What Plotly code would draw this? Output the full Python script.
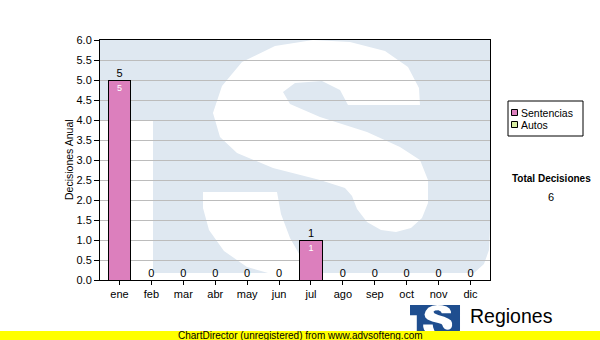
import plotly.graph_objects as go

# ---------------- data ----------------
months = ["ene", "feb", "mar", "abr", "may", "jun", "jul", "ago", "sep", "oct", "nov", "dic"]
sentencias = [5, 0, 0, 0, 0, 0, 1, 0, 0, 0, 0, 0]
autos = [0, 0, 0, 0, 0, 0, 0, 0, 0, 0, 0, 0]
series_names = ["Sentencias", "Autos"]
series_colors = ["#dc7fbd", "#d8eda2"]
y_tick_vals = [0, 0.5, 1, 1.5, 2, 2.5, 3, 3.5, 4, 4.5, 5, 5.5, 6]
y_title = "Decisiones Anual"
total_label = "Total Decisiones"
totals = [s + a for s, a in zip(sentencias, autos)]
total_decisiones = sum(totals)

# ---------------- geometry helpers (pixel -> paper) ----------------
W, H = 600, 340
L, R, T, B = 100, 110, 40, 60
PW, PH = W - L - R, H - T - B


def X(px):
    return (px - L) / PW


def Y(py):
    return (H - B - py) / PH


def path(points, closed=True):
    s = "M " + " L ".join(f"{X(a):.4f},{Y(b):.4f}" for a, b in points)
    return s + (" Z" if closed else "")


# watermark logo outline in pixel space (big version over plot area)
square = [(100, 40), (490, 40), (490, 228), (489, 250), (484, 264), (474, 273),
          (153, 273), (153, 120), (100, 120)]
s_upper = [(420, 105), (419, 88), (408, 67), (385, 51), (350, 42), (313, 40), (275, 46),
           (242, 62), (222, 86), (213, 113), (220, 137), (237, 153), (273, 168),
           (320, 180), (345, 188), (352, 196), (357, 209), (367, 222), (381, 230),
           (396, 232), (411, 228), (422, 218), (428, 203), (428, 180), (420, 160),
           (400, 147), (367, 132), (320, 117), (290, 104), (283, 92), (295, 83),
           (322, 81), (340, 90), (348, 105)]
s_lower = [(203, 192), (277, 192), (281, 214), (290, 238), (302, 259), (314, 275),
           (275, 275), (247, 267), (224, 251), (209, 230), (203, 208)]


def small(points):
    return [(410 + (a - 100) * 50 / 390, 305 + (b - 40) * 30 / 233) for a, b in points]


shapes = [
    dict(type="path", xref="paper", yref="paper", path=path(square),
         fillcolor="#dfe8f1", line=dict(width=0), layer="below"),
    dict(type="path", xref="paper", yref="paper", path=path(s_upper),
         fillcolor="#ffffff", line=dict(width=0), layer="below"),
    dict(type="path", xref="paper", yref="paper", path=path(s_lower),
         fillcolor="#ffffff", line=dict(width=0), layer="below"),
    # small logo bottom right
    dict(type="path", xref="paper", yref="paper", path=path(small(square)),
         fillcolor="#1f4e8f", line=dict(width=0), layer="above"),
    dict(type="path", xref="paper", yref="paper", path=path(small(s_upper)),
         fillcolor="#ffffff", line=dict(width=0), layer="above"),
    dict(type="path", xref="paper", yref="paper", path=path(small(s_lower)),
         fillcolor="#ffffff", line=dict(width=0), layer="above"),
    # yellow unregistered band
    dict(type="rect", xref="paper", yref="paper", x0=X(0), x1=X(600), y0=Y(340), y1=Y(331),
         fillcolor="#ffff00", line=dict(width=0), layer="above"),
    # legend box
    dict(type="rect", xref="paper", yref="paper", x0=X(508), x1=X(583), y0=Y(136), y1=Y(101),
         fillcolor="#ffffff", line=dict(color="#000000", width=1), layer="above"),
]

# legend swatches
leg_rows = [112.5, 124.5]
for name, col, cy in zip(series_names, series_colors, leg_rows):
    shapes.append(dict(type="rect", xref="paper", yref="paper", x0=X(511.5), x1=X(517.5),
                       y0=Y(cy + 3), y1=Y(cy - 3), fillcolor=col,
                       line=dict(color="#000000", width=1), layer="above"))

FONT = "Liberation Sans, Arial, sans-serif"

annotations = []
for name, cy in zip(series_names, leg_rows):
    annotations.append(dict(text=name, x=X(519), y=Y(cy), xref="paper", yref="paper",
                            xanchor="left", yanchor="middle", showarrow=False,
                            font=dict(family=FONT, size=10.5, color="#000000")))
annotations += [
    dict(text="<b>" + total_label + "</b>", x=X(551), y=Y(178), xref="paper", yref="paper",
         xanchor="center", yanchor="middle", showarrow=False,
         font=dict(family=FONT, size=10, color="#000000")),
    dict(text=str(total_decisiones), x=X(551), y=Y(196.5), xref="paper", yref="paper",
         xanchor="center", yanchor="middle", showarrow=False,
         font=dict(family=FONT, size=11, color="#000000")),
    dict(text=y_title, x=X(69), y=Y(160), xref="paper", yref="paper", textangle=-90,
         xanchor="center", yanchor="middle", showarrow=False,
         font=dict(family=FONT, size=10.5, color="#000000")),
    dict(text="ChartDirector (unregistered) from www.advsofteng.com", x=X(300), y=Y(335.5),
         xref="paper", yref="paper", xanchor="center", yanchor="middle", showarrow=False,
         font=dict(family=FONT, size=10, color="#000000")),
    dict(text="Regiones", x=X(468), y=Y(316), xref="paper", yref="paper",
         xanchor="left", yanchor="middle", showarrow=False,
         font=dict(family=FONT, size=19.5, color="#000000")),
]

fig = go.Figure()
fig.add_trace(go.Bar(
    name=series_names[0], x=months, y=sentencias, width=0.71,
    marker=dict(color=series_colors[0], line=dict(color="#000000", width=1)),
    text=[str(v) if v else "" for v in sentencias], textposition="inside",
    insidetextanchor="end", textangle=0,
    textfont=dict(family=FONT, size=9, color="#ffffff"), showlegend=False,
))
fig.add_trace(go.Bar(
    name=series_names[1], x=months, y=autos, width=0.71,
    marker=dict(color=series_colors[1], line=dict(color="#000000", width=1)),
    showlegend=False,
))
fig.add_trace(go.Scatter(
    x=months, y=totals, mode="text", text=[str(t) for t in totals],
    textposition="top center", textfont=dict(family=FONT, size=11, color="#000000"),
    showlegend=False, cliponaxis=False, hoverinfo="skip",
))

fig.update_layout(
    width=W, height=H, margin=dict(l=L, r=R, t=T, b=B),
    paper_bgcolor="#ffffff", plot_bgcolor="#ffffff",
    barmode="stack", showlegend=False,
    font=dict(family=FONT, size=11, color="#000000"),
    shapes=shapes, annotations=annotations,
    xaxis=dict(type="category", categoryorder="array", categoryarray=months,
               showline=True, linecolor="#000000", linewidth=1, mirror=True,
               ticks="outside", ticklen=4, tickcolor="#000000", showgrid=False,
               tickfont=dict(family=FONT, size=11, color="#000000")),
    yaxis=dict(range=[0, 6], tickmode="array", tickvals=y_tick_vals,
               ticktext=[f"{v:.1f}" for v in y_tick_vals],
               showline=True, linecolor="#000000", linewidth=1, mirror=True,
               ticks="outside", ticklen=5, tickcolor="#000000",
               showgrid=True, gridcolor="#bcbcbc", gridwidth=1, zeroline=False,
               tickfont=dict(family=FONT, size=11, color="#000000")),
)

fig.write_html("out.html")
